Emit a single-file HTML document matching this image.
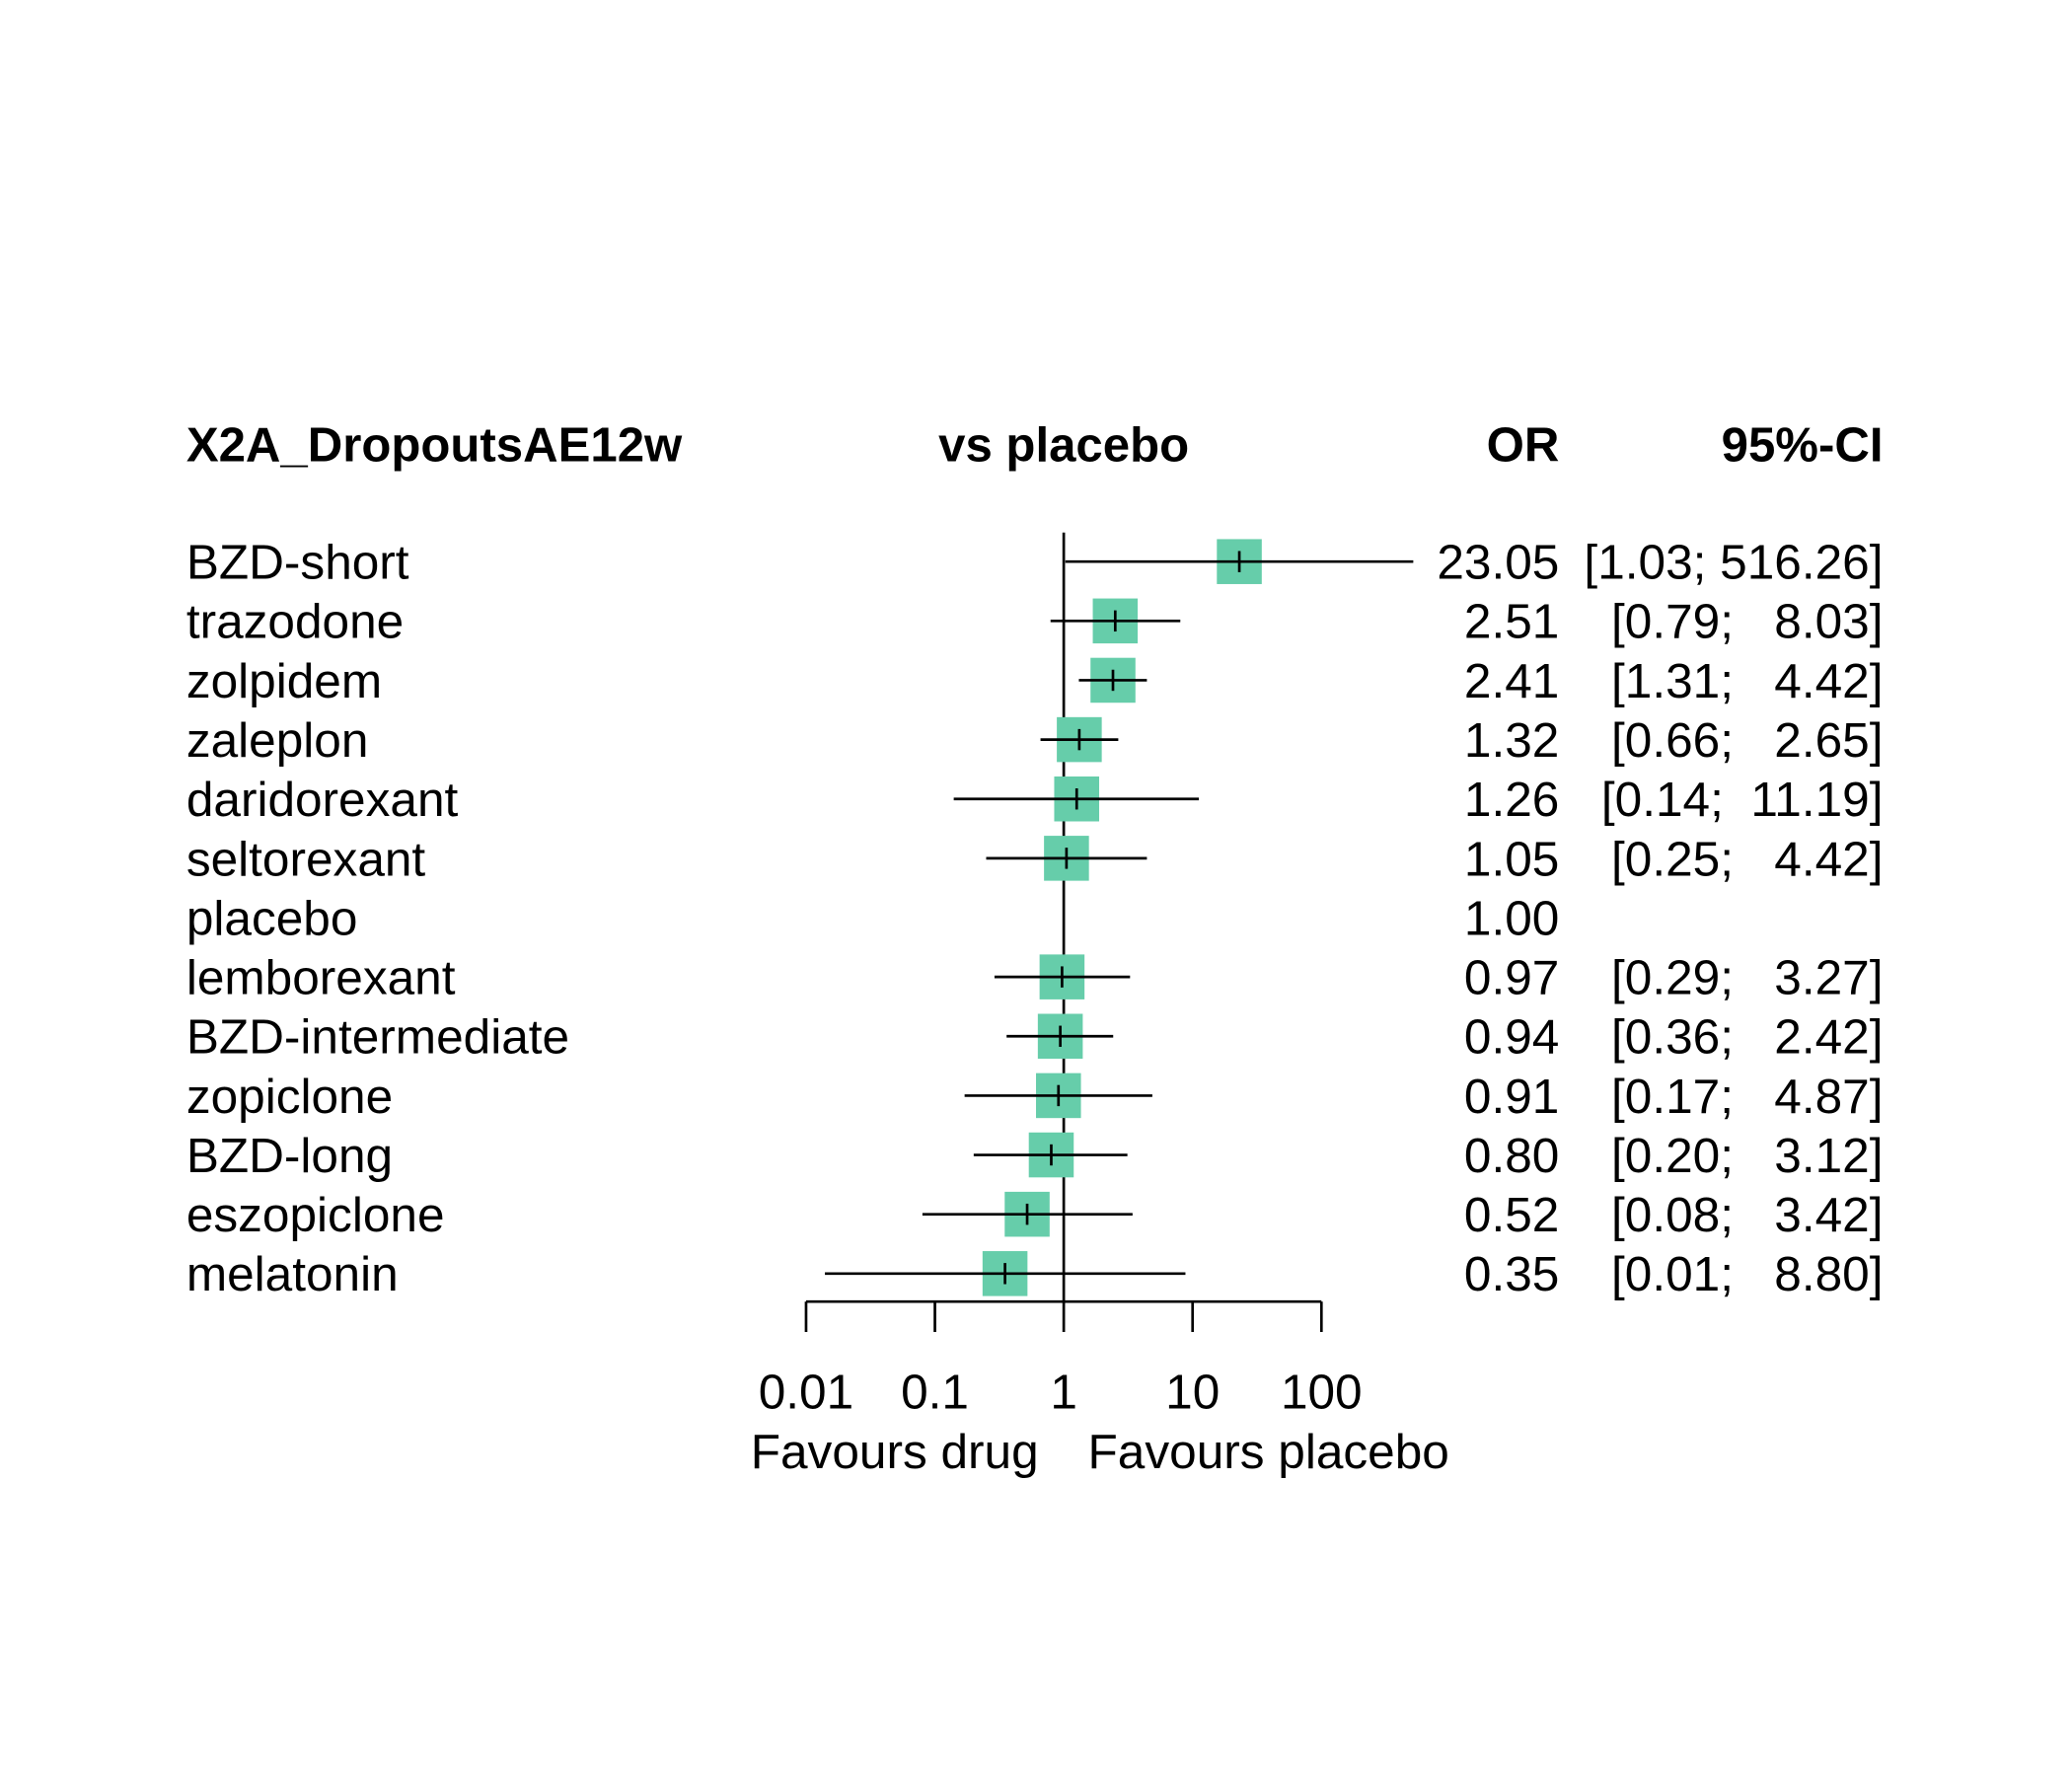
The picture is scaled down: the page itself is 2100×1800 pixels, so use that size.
<!DOCTYPE html>
<html><head><meta charset="utf-8"><style>
html,body{margin:0;padding:0;background:#fff;}
svg{display:block;}
text{font-family:"Liberation Sans",Arial,sans-serif;fill:#000;}
</style></head>
<body>
<svg id="chart" width="2100" height="1800" viewBox="0 0 1568 1344" xmlns="http://www.w3.org/2000/svg">
<rect width="1568" height="1344" fill="#fff"/>
<text x="141" y="349" font-size="36.7" font-weight="bold">X2A_DropoutsAE12w</text>
<text x="805" y="349" font-size="36.7" font-weight="bold" text-anchor="middle">vs placebo</text>
<text x="1180" y="349" font-size="36.7" font-weight="bold" text-anchor="end">OR</text>
<text x="1425" y="349" font-size="36.7" font-weight="bold" text-anchor="end">95%-CI</text>
<g id="rows"></g>
<g id="axis"></g>
<text x="677" y="1111" font-size="37" text-anchor="middle">Favours drug</text>
<text x="960" y="1111" font-size="37" text-anchor="middle">Favours placebo</text>
</svg>
<script>
const treatments = ["BZD-short","trazodone","zolpidem","zaleplon","daridorexant","seltorexant","placebo","lemborexant","BZD-intermediate","zopiclone","BZD-long","eszopiclone","melatonin"];
const orValues = [23.05,2.51,2.41,1.32,1.26,1.05,1.00,0.97,0.94,0.91,0.80,0.52,0.35];
const lowerCI = [1.03,0.79,1.31,0.66,0.14,0.25,null,0.29,0.36,0.17,0.20,0.08,0.014];
const upperCI = [516.26,8.03,4.42,2.65,11.19,4.42,null,3.27,2.42,4.87,3.12,3.42,8.80];
const ciLabels = ["[1.03; 516.26]","[0.79;   8.03]","[1.31;   4.42]","[0.66;   2.65]","[0.14;  11.19]","[0.25;   4.42]","","[0.29;   3.27]","[0.36;   2.42]","[0.17;   4.87]","[0.20;   3.12]","[0.08;   3.42]","[0.01;   8.80]"];
const tickValues = [0.01,0.1,1,10,100];
const tickLabels = ["0.01","0.1","1","10","100"];

const NS = "http://www.w3.org/2000/svg";
const xScale = v => 805 + 97.5 * Math.log10(v);
const yRow = i => 425 + i * 44.9;
function mk(tag, attrs, parent, txt) {
  const e = document.createElementNS(NS, tag);
  for (const k in attrs) e.setAttribute(k, attrs[k]);
  if (txt !== undefined) e.textContent = txt;
  parent.appendChild(e);
  return e;
}
const rows = document.getElementById("rows");
const axis = document.getElementById("axis");

const ref = mk("line", {x1: xScale(1), x2: xScale(1), y1: 403, y2: 985, stroke: "#000", "stroke-width": 2}, rows);



treatments.forEach((t, i) => {
  const y = yRow(i);
  const lab = mk("text", {x: 141, y: y + 13, "font-size": 37}, rows, t);
  
  
  const orT = mk("text", {x: 1180, y: y + 13, "font-size": 37, "text-anchor": "end"}, rows, orValues[i].toFixed(2));
  
  
  if (ciLabels[i]) {
    const ci = mk("text", {x: 1425, y: y + 13, "font-size": 37, "text-anchor": "end", "xml:space": "preserve"}, rows, ciLabels[i]);
    ci.style.whiteSpace = "pre";
    
    
  }
  if (lowerCI[i] !== null) {
    const cx = xScale(orValues[i]);
    const sq = mk("rect", {x: cx - 17, y: y - 17, width: 34, height: 34, fill: "#66CDAA"}, rows);
    
    
    const ln = mk("line", {x1: xScale(lowerCI[i]), x2: xScale(upperCI[i]), y1: y, y2: y, stroke: "#000", "stroke-width": 2}, rows);
    
    
    const tk = mk("line", {x1: cx, x2: cx, y1: y - 8, y2: y + 8, stroke: "#000", "stroke-width": 2}, rows);
    
    
  }
});

const axLine = mk("line", {x1: xScale(tickValues[0]), x2: xScale(tickValues[tickValues.length - 1]), y1: 985, y2: 985, stroke: "#000", "stroke-width": 2}, axis);


tickValues.forEach((v, i) => {
  const x = xScale(v);
  const t = mk("line", {x1: x, x2: x, y1: 985, y2: 1008, stroke: "#000", "stroke-width": 2}, axis);
  
  
  const l = mk("text", {x: x, y: 1066, "font-size": 37, "text-anchor": "middle"}, axis, tickLabels[i]);
  
  
});
</script>
</body></html>
